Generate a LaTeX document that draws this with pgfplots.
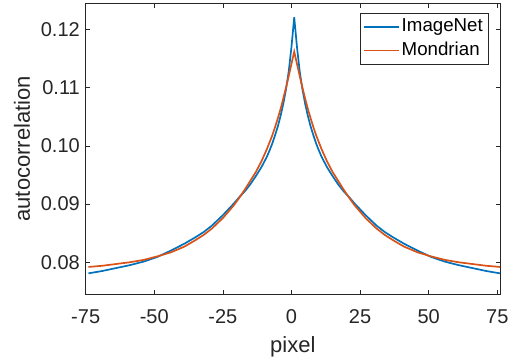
\documentclass[border=0pt]{standalone}
\usepackage{pgfplots}
\usepackage{pgfplotstable}
\pgfplotsset{compat=1.18}
\usepackage{fontspec}
\setmainfont{Liberation Sans}
\definecolor{axgray}{RGB}{38,38,38}
\definecolor{mblue}{RGB}{0,114,189}
\definecolor{morange}{RGB}{217,83,25}

\pgfplotstableread{
x b o
-74 .0781 .0792
-69 .0785 .0794
-64 .0790 .0797
-59 .0795 .0800
-54 .0801 .0804
-49 .0809 .0810
-44 .0820 .0817
-39 .0832 .0827
-35 .0843 .0838
-32 .0852 .0847
-29 .0863 .0858
-27 .0872 .0867
-25 .0881 .0876
-23 .0891 .0887
-21 .0901 .0898
-19 .0912 .0911
-17 .0922 .0925
-15 .0934 .0940
-13 .0948 .0955
-11 .0963 .0973
-9 .0981 .0994
-8 .0992 .1006
-7 .1004 .1018
-6 .1018 .1032
-5 .1033 .1047
-4 .1051 .1063
-3 .1072 .1081
-2 .1097 .1100
-1 .1128 .1120
0 .1170 .1141
1 .1221 .1162
2 .1170 .1141
3 .1128 .1120
4 .1097 .1100
5 .1072 .1081
6 .1051 .1063
7 .1033 .1047
8 .1018 .1032
9 .1004 .1018
10 .0992 .1006
11 .0981 .0994
13 .0963 .0973
15 .0948 .0955
17 .0934 .0940
19 .0922 .0925
21 .0912 .0911
23 .0901 .0898
25 .0891 .0887
27 .0881 .0876
29 .0872 .0867
31 .0863 .0858
34 .0852 .0847
37 .0843 .0838
41 .0832 .0827
46 .0820 .0817
51 .0809 .0810
56 .0801 .0804
61 .0795 .0800
66 .0790 .0797
71 .0785 .0794
76 .0781 .0792
}\datatable

\begin{document}
\begin{tikzpicture}
\begin{axis}[
  name=ax,
  width=414.3pt, height=291pt, scale only axis,
  xmin=-75, xmax=76, ymin=0.0745, ymax=0.1245,
  xtick={-75,-50,-25,0,25,50,75},
  ytick={0.08,0.09,0.10,0.11,0.12},
  /pgf/number format/assume math mode=true,
  yticklabel style={/pgf/number format/fixed, /pgf/number format/fixed zerofill, /pgf/number format/precision=2},
  tick label style={font=\fontsize{20}{24}\selectfont, text=axgray},
  xticklabel style={anchor=center, inner sep=0pt, yshift=-22.4pt},
  yticklabel style={anchor=east, inner sep=0pt, xshift=-5.7pt},
  axis line style={axgray, line width=0.6pt},
  tick style={axgray, line width=0.6pt},
  major tick length=4.5pt,
  tick align=inside,
  xlabel={pixel}, ylabel={autocorrelation},
  label style={font=\fontsize{22}{26}\selectfont, text=axgray},
  xlabel style={at={(axis description cs:0.5,0)}, anchor=base, yshift=-58pt},
  ylabel style={at={([xshift=-55.7pt]axis description cs:0,0.5)}, anchor=base},
  legend style={at={(1,1)}, anchor=north east, xshift=-11.7pt, yshift=-10pt,
    draw=axgray, font=\fontsize{18.7}{22}\selectfont,
    inner xsep=3.5pt, inner ysep=2pt, row sep=0pt, column sep=0pt,
    nodes={inner xsep=1.8pt, inner ysep=2.9pt, text height=13.5pt, text depth=4pt, text=black}},
  legend cell align=left,
  legend image code/.code={\draw[#1, line width=1.7pt] (0pt,0pt) -- (35pt,0pt);},
]
\addplot[mblue, line width=1.7pt] table[x=x, y=b] {\datatable};
\addlegendentry{ImageNet}
\addplot[morange, line width=1.7pt] table[x=x, y=o] {\datatable};
\addlegendentry{Mondrian}
\end{axis}
\pgfresetboundingbox
\path ([xshift=-85.7pt,yshift=-65.7pt]ax.south west) rectangle ([xshift=16pt,yshift=3.3pt]ax.north east);
\end{tikzpicture}
\end{document}
